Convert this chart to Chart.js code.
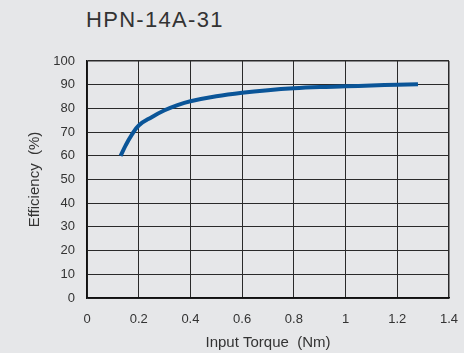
<!DOCTYPE html>
<html>
<head>
<meta charset="utf-8">
<script src="https://cdn.jsdelivr.net/npm/chart.js@4"></script>
<style>
  body { margin: 0; background: #e6e7e9; }
  #wrap { position: relative; width: 464px; height: 353px; }
  #title {
    position: absolute; left: 86px; top: 9px;
    font: 22px "Liberation Sans", Arial, sans-serif; line-height: 22px;
    letter-spacing: 1.3px; color: #333;
  }
  canvas { position: absolute; left: 0; top: 0; }
</style>
</head>
<body>
<div id="wrap">
  <div id="title">HPN-14A-31</div>
  <canvas id="effChart" width="464" height="353"></canvas>
</div>
<script>
// efficiency curve
const torque = [0.13, 0.15, 0.17, 0.2, 0.25, 0.3, 0.35, 0.4, 0.5, 0.6, 0.7, 0.8, 0.9, 1.0, 1.1, 1.2, 1.28];
const efficiency = [60, 64.5, 68.3, 72.8, 76.3, 79.2, 81.4, 83.0, 85.1, 86.6, 87.7, 88.5, 89.0, 89.3, 89.7, 90.0, 90.2];

const xTickLabels = ["0", "0.2", "0.4", "0.6", "0.8", "1", "1.2", "1.4"];
const yTickLabels = ["0", "10", "20", "30", "40", "50", "60", "70", "80", "90", "100"];

const tickFont = { family: "'Liberation Sans', Arial, sans-serif", size: 13 };
const titleFont = { family: "'Liberation Sans', Arial, sans-serif", size: 15 };

function initEfficiencyChart() {
  const canvas = document.getElementById("effChart");
  return new Chart(canvas.getContext("2d"), {
    type: "line",
    data: {
      datasets: [
        {
          data: torque.map((t, i) => ({ x: t, y: efficiency[i] })),
          borderColor: "#0a5598",
          borderWidth: 4,
          pointRadius: 0,
          tension: 0.4,
          fill: false,
        },
      ],
    },
    options: {
      responsive: false,
      animation: false,
      layout: { padding: { left: 0, top: 61, right: 15, bottom: 1 } },
      plugins: { legend: { display: false }, tooltip: { enabled: false } },
      scales: {
        x: {
          type: "linear",
          min: 0,
          max: 1.4,
          afterFit: (scale) => {
            scale.height = 54;
            scale.paddingLeft = 0;
            scale.paddingRight = 0;
          },
          ticks: {
            stepSize: 0.2,
            padding: 14,
            color: "#333",
            font: tickFont,
            maxRotation: 0,
            callback: (v, i) => xTickLabels[i],
          },
          grid: {
            drawTicks: false,
            color: "#2a2a2a",
            lineWidth: (ctx) => (ctx.index === xTickLabels.length - 1 ? 1.5 : 1),
          },
          border: { display: true, color: "#111", width: 1.5 },
          title: {
            display: true,
            text: "Input Torque  (Nm)",
            color: "#333",
            font: titleFont,
            padding: { top: 0, bottom: 0 },
          },
        },
        y: {
          min: 0,
          max: 100,
          afterFit: (scale) => { scale.width = 87; },
          ticks: {
            stepSize: 10,
            padding: 12,
            color: "#333",
            font: tickFont,
            callback: (v, i) => yTickLabels[i],
          },
          grid: {
            drawTicks: false,
            color: "#2a2a2a",
            lineWidth: (ctx) => (ctx.index === yTickLabels.length - 1 ? 1.5 : 1),
          },
          border: { display: true, color: "#111", width: 1.5 },
          title: {
            display: true,
            text: "Efficiency  (%)",
            color: "#333",
            font: titleFont,
            padding: { top: 26, bottom: 0 },
          },
        },
      },
    },
  });
}

initEfficiencyChart();
</script>
</body>
</html>
